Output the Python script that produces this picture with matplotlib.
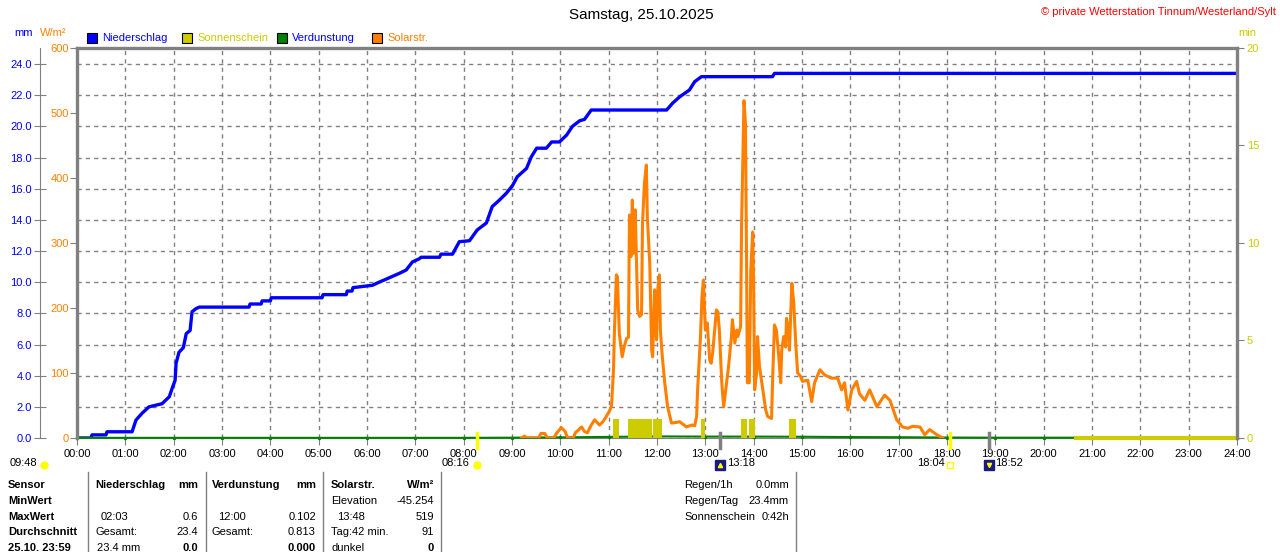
import matplotlib
matplotlib.use("Agg")
import matplotlib.pyplot as plt
import matplotlib.transforms as mtransforms
from matplotlib.patches import Rectangle
from matplotlib.lines import Line2D

plt.rcParams['font.family'] = ['Liberation Sans', 'DejaVu Sans']
plt.rcParams['font.size'] = 8

# ---- data ----
hours = list(range(25))
hour_labels = ["%02d:00" % h for h in hours]

rain_t = [0, 0.29, 0.31, 0.60, 0.62, 1.14, 1.22, 1.35, 1.49, 1.76, 1.91, 1.97, 2.03,
          2.05, 2.11, 2.20, 2.26, 2.34, 2.38, 2.46, 2.53, 3.56, 3.58, 3.81, 3.83, 4.00,
          4.02, 5.07, 5.09, 5.57, 5.59, 5.69, 5.71, 6.11, 6.25, 6.40, 6.67, 6.81, 6.94,
          7.08, 7.12, 7.50, 7.53, 7.77, 7.91, 8.12, 8.28, 8.47, 8.59, 8.74, 8.88, 9.01,
          9.11, 9.30, 9.40, 9.51, 9.71, 9.82, 9.98, 10.13, 10.25, 10.40, 10.50, 10.64,
          12.20, 12.32, 12.47, 12.67, 12.78, 12.92, 14.39, 14.43, 24.0]
rain_mm = [0, 0, 0.2, 0.2, 0.4, 0.4, 1.15, 1.6, 2.0, 2.2, 2.65, 3.2, 3.7,
           4.8, 5.5, 5.8, 6.7, 6.9, 8.1, 8.3, 8.4, 8.4, 8.6, 8.6, 8.8, 8.8,
           9.0, 9.0, 9.2, 9.2, 9.43, 9.43, 9.65, 9.8, 10.0, 10.2, 10.57, 10.78, 11.3,
           11.5, 11.6, 11.6, 11.8, 11.8, 12.6, 12.66, 13.35, 13.8, 14.85, 15.27, 15.7, 16.2,
           16.77, 17.3, 18.05, 18.6, 18.6, 19.0, 19.0, 19.44, 20.0, 20.36, 20.45, 21.05,
           21.05, 21.48, 21.9, 22.33, 22.87, 23.19, 23.19, 23.4, 23.4]

solar_t = [9.20, 9.26, 9.30, 9.55, 9.60, 9.68, 9.73, 9.86, 9.93, 10.02, 10.10, 10.15,
           10.27, 10.31, 10.37, 10.44, 10.50, 10.56, 10.64, 10.71, 10.81, 10.88, 10.95,
           11.02, 11.06, 11.10, 11.12, 11.16, 11.18, 11.22, 11.28, 11.32, 11.37, 11.41,
           11.43, 11.46, 11.49, 11.51, 11.55, 11.60, 11.64, 11.68, 11.70, 11.74, 11.78,
           11.80, 11.85, 11.89, 11.91, 11.95, 11.99, 12.01, 12.05, 12.07, 12.11, 12.16,
           12.22, 12.30, 12.40, 12.47, 12.61, 12.72, 12.78, 12.82, 12.84, 12.90, 12.93,
           12.96, 13.00, 13.04, 13.09, 13.12, 13.15, 13.23, 13.26, 13.29, 13.34, 13.38,
           13.44, 13.48, 13.54, 13.56, 13.61, 13.65, 13.67, 13.73, 13.75, 13.80, 13.83,
           13.85, 13.87, 13.91, 13.94, 13.98, 14.00, 14.02, 14.06, 14.08, 14.12, 14.16,
           14.19, 14.25, 14.29, 14.37, 14.39, 14.43, 14.47, 14.52, 14.56, 14.58, 14.62,
           14.66, 14.68, 14.72, 14.74, 14.79, 14.83, 14.87, 14.91, 14.97, 15.01, 15.12,
           15.20, 15.26, 15.37, 15.47, 15.61, 15.74, 15.82, 15.88, 15.95, 16.03, 16.13,
           16.19, 16.30, 16.40, 16.55, 16.71, 16.82, 16.96, 17.08, 17.19, 17.29, 17.44,
           17.54, 17.64, 17.79, 17.91]
solar_w = [0, 3, 0, 0, 7, 7, 0, 0, 8, 16, 10, 0,
           0, 8, 12, 17, 10, 8, 20, 28, 20, 25, 33,
           42, 50, 105, 166, 251, 248, 161, 125, 140, 153, 155,
           343, 279, 366, 284, 351, 197, 187, 190, 330, 392, 420,
           340, 269, 135, 125, 228, 151, 223, 251, 166, 125, 85,
           48, 23, 24, 25, 17, 20, 19, 33, 74, 156, 217,
           243, 166, 177, 120, 115, 130, 197, 194, 166, 85, 48,
           85, 110, 156, 182, 146, 166, 156, 171, 330, 519, 484,
           300, 85, 85, 258, 317, 228, 74, 100, 156, 110, 89,
           74, 43, 33, 30, 85, 174, 166, 125, 85, 135, 156,
           140, 184, 166, 135, 238, 207, 146, 100, 95, 87, 89,
           56, 85, 105, 97, 92, 92, 74, 85, 43, 74, 87,
           68, 58, 74, 48, 66, 58, 28, 17, 15, 18, 17,
           5, 13, 5, 0]

sun_start = [11.10, 11.39, 11.91, 12.92, 13.73, 13.91, 14.74]
sun_end = [11.22, 11.89, 12.11, 13.00, 13.87, 14.02, 14.87]
sun_min = [1, 1, 1, 1, 1, 1, 1]
sun_line_t = [20.67, 24.0]

evap_mm = [0.01, 0.01, 0.01, 0.01, 0.01, 0.01, 0.01, 0.01, 0.01, 0.02, 0.04, 0.07, 0.102,
           0.09, 0.09, 0.08, 0.06, 0.05, 0.03, 0.02, 0.02, 0.02, 0.02, 0.02, 0.02]

mm_ticks = [0, 2, 4, 6, 8, 10, 12, 14, 16, 18, 20, 22, 24]
wm_ticks = [0, 100, 200, 300, 400, 500, 600]
min_ticks = [0, 5, 10, 15, 20]

sunrise, sunset = 8 + 16 / 60, 18 + 4 / 60
moonrise, moonset = 13 + 18 / 60, 18 + 52 / 60

BLUE = '#0000ff'
ORANGE = '#ff8000'
YEL = '#cccc00'
GREEN = '#008000'
GRAY = '#808080'

W, H = 1280, 552
fig = plt.figure(figsize=(W / 100, H / 100), dpi=100)


def px(x, y):
    return x / W, 1 - y / H


# ---- axes ----
ax = fig.add_axes([77 / W, 114 / H, 1160 / W, 390 / H])
ax.set_xlim(0, 24)
ax.set_ylim(0, 25.03)
ax.set_xticks(hours)
ax.set_xticklabels(hour_labels)
ax.set_yticks(mm_ticks)
ax.set_yticklabels(["%.1f" % v for v in mm_ticks])
ax.tick_params(axis='x', direction='out', length=5, color=GRAY, labelcolor='black', pad=3)
ax.tick_params(axis='y', direction='inout', length=8, color=GRAY, labelcolor=BLUE, pad=2)
ax.grid(True, ls=(0, (3, 3)), color=GRAY, lw=1)
ax.spines['left'].set_position(('outward', 37 * 0.72))
ax.spines['left'].set_color(GRAY)
ax.spines['bottom'].set_color(GRAY)
ax.spines['top'].set_visible(False)
ax.spines['right'].set_visible(False)

ax.plot(rain_t, rain_mm, color=BLUE, lw=2.4, zorder=3)
ax.plot(hours, evap_mm, color=GREEN, lw=1.5, marker='.', markersize=3, clip_on=False, zorder=4)

ax_sol = ax.twinx()
ax_sol.set_ylim(0, 600)
ax_sol.set_yticks(wm_ticks)
ax_sol.yaxis.set_ticks_position('left')
ax_sol.yaxis.set_label_position('left')
ax_sol.tick_params(axis='y', direction='out', length=5, color=GRAY, labelcolor=ORANGE, pad=1)
for s in ['left', 'top']:
    ax_sol.spines[s].set_visible(True)
    ax_sol.spines[s].set_color(GRAY)
    ax_sol.spines[s].set_linewidth(2.4)
ax_sol.spines['right'].set_visible(False)
ax_sol.spines['bottom'].set_visible(False)
ax_sol.plot(solar_t, solar_w, color=ORANGE, lw=2.2)

ax_min = ax.twinx()
ax_min.set_ylim(0, 20)
ax_min.set_yticks(min_ticks)
ax_min.tick_params(axis='y', direction='out', length=5, color=GRAY, labelcolor=YEL, pad=2)
ax_min.spines['right'].set_color(GRAY)
ax_min.spines['right'].set_linewidth(2.4)
for s in ['left', 'top', 'bottom']:
    ax_min.spines[s].set_visible(False)
widths = [e - s for s, e in zip(sun_start, sun_end)]
ax_min.bar(sun_start, sun_min, width=widths, align='edge', color=YEL, zorder=2)
ax_min.plot(sun_line_t, [0, 0], color=YEL, lw=3, clip_on=False)

# event marks on the time axis
trans = mtransforms.blended_transform_factory(ax.transData, ax.transAxes)
for t, c in [(sunrise, '#ffff00'), (sunset, '#ffff00'), (moonrise, GRAY), (moonset, GRAY)]:
    ax.plot([t, t], [-0.025, 0.012], color=c, lw=2.5, transform=trans, clip_on=False, zorder=5)

ax.annotate("08:16", xy=(sunrise, 0), xycoords=trans, xytext=(-7, -25),
            textcoords='offset pixels', ha='right', va='center')
ax.plot([sunrise], [-0.068], marker='o', color='#ffff00', markersize=5, transform=trans, clip_on=False)
ax.annotate("13:18", xy=(moonrise, 0), xycoords=trans, xytext=(7, -25),
            textcoords='offset pixels', ha='left', va='center')
ax.plot([moonrise], [-0.068], marker='s', color='#1a1a80', markersize=7, transform=trans, clip_on=False)
ax.plot([moonrise], [-0.068], marker='^', color='#ffff00', markersize=3, transform=trans, clip_on=False)
ax.annotate("18:04", xy=(sunset, 0), xycoords=trans, xytext=(-5, -25),
            textcoords='offset pixels', ha='right', va='center')
ax.plot([sunset], [-0.068], marker='s', mfc='none', mec='#ffff00', markersize=4, transform=trans, clip_on=False)
ax.annotate("18:52", xy=(moonset, 0), xycoords=trans, xytext=(6, -25),
            textcoords='offset pixels', ha='left', va='center')
ax.plot([moonset], [-0.068], marker='s', color='#1a1a80', markersize=7, transform=trans, clip_on=False)
ax.plot([moonset], [-0.068], marker='v', color='#ffff00', markersize=3, transform=trans, clip_on=False)

# ---- header ----
fig.text(*px(641, 15), "Samstag, 25.10.2025", ha='center', va='center', fontsize=11)
fig.text(*px(1276, 12), "© private Wetterstation Tinnum/Westerland/Sylt", ha='right',
         va='center', color='#ff0000')
fig.text(*px(14, 33), "mm", color=BLUE, va='center')
fig.text(*px(40, 33), "W/m²", color=ORANGE, va='center')
fig.text(*px(1238, 33), "min", color=YEL, va='center')

legend_items = [("Niederschlag", BLUE, BLUE), ("Sonnenschein", YEL, YEL),
                ("Verdunstung", GREEN, BLUE), ("Solarstr.", ORANGE, ORANGE)]
for i, (name, box, txt) in enumerate(legend_items):
    x0 = 87 + 95 * i
    fig.add_artist(Rectangle(px(x0, 43), 10 / W, 10 / H, transform=fig.transFigure,
                             facecolor=box, edgecolor='black', lw=0.8))
    fig.text(*px(x0 + 15, 38), name, color=txt, va='center')

# ---- info below ----
fig.text(*px(10, 463), "09:48", va='center')
fig.add_artist(Line2D([44 / W], [1 - 465 / H], marker='o', color='#ffff00',
                      markersize=5, transform=fig.transFigure))

for x in [88, 206, 323, 441, 796]:
    fig.add_artist(Line2D([x / W, x / W], [1 - 472 / H, 0], color=GRAY, lw=1,
                          transform=fig.transFigure))

row_y = [485, 501, 517, 532, 548]
sensor_rows = ["Sensor", "MinWert", "MaxWert", "Durchschnitt", "25.10. 23:59"]
for y, s in zip(row_y, sensor_rows):
    fig.text(*px(8, y), s, va='center', fontweight='bold')

# (x, y, text, align, bold)
cells = [
    (95, 0, "Niederschlag", 'left', True), (198, 0, "mm", 'right', True),
    (212, 0, "Verdunstung", 'left', True), (316, 0, "mm", 'right', True),
    (331, 0, "Solarstr.", 'left', True), (434, 0, "W/m²", 'right', True),
    (331, 1, "Elevation", 'left', False), (434, 1, "-45.254", 'right', False),
    (101, 2, "02:03", 'left', False), (198, 2, "0.6", 'right', False),
    (218, 2, "12:00", 'left', False), (316, 2, "0.102", 'right', False),
    (337, 2, "13:48", 'left', False), (434, 2, "519", 'right', False),
    (95, 3, "Gesamt:", 'left', False), (198, 3, "23.4", 'right', False),
    (212, 3, "Gesamt:", 'left', False), (316, 3, "0.813", 'right', False),
    (331, 3, "Tag:42 min.", 'left', False), (434, 3, "91", 'right', False),
    (97, 4, "23.4 mm", 'left', False), (198, 4, "0.0", 'right', True),
    (316, 4, "0.000", 'right', True),
    (331, 4, "dunkel", 'left', False), (434, 4, "0", 'right', True),
]
for x, r, s, ha, bold in cells:
    fig.text(*px(x, row_y[r]), s, ha=ha, va='center',
             fontweight='bold' if bold else 'normal')

summary = [("Regen/1h", "0.0mm"), ("Regen/Tag", "23.4mm"), ("Sonnenschein", "0:42h")]
for (k, v), y in zip(summary, row_y):
    fig.text(*px(684, y), k, va='center')
    fig.text(*px(789, y), v, va='center', ha='right')

fig.savefig("out.png", dpi=100)
